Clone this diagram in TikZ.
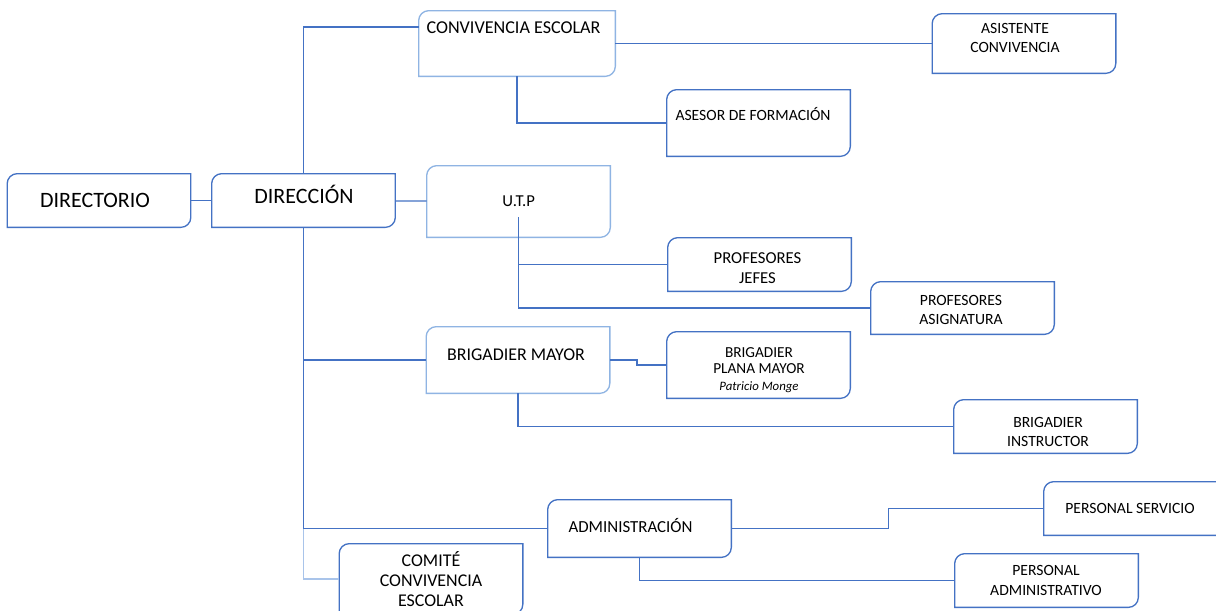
\documentclass[tikz,border=0pt]{standalone}
\usepackage{fontspec}
\setmainfont{Carlito}
\definecolor{azul}{HTML}{4472C4}
\definecolor{celeste}{HTML}{8FB4E3}
\definecolor{azulclaro}{HTML}{A9C4EA}
\begin{document}
\begin{tikzpicture}[x=0.02cm,y=-0.02cm]
        \tikzstyle{caja}=[inner sep=0pt,minimum width=3.66cm,minimum height=1.06cm]
        \tikzstyle{txt}=[inner sep=0pt,align=center,font=\fontsize{8.9}{11}\selectfont]
        \tikzstyle{linea}=[draw=azul,line width=0.75pt]

        \fill[white] (0,0) rectangle (1216,610);
        \useasboundingbox (0,0) rectangle (1216,610);

        % cajas
        \node (dirio)[caja] at (99,200.5) {};
        \node (direc)[caja] at (303.5,200.5) {};
        \node (conv)[caja,minimum width=3.92cm,minimum height=1.3cm] at (517,43.5) {};
        \node (asis)[caja,minimum height=1.18cm] at (1024,43.5) {};
        \node (asesor)[caja,minimum height=1.32cm] at (758.5,123) {};
        \node (utp)[caja,minimum height=1.42cm] at (518.5,201.5) {};
        \node (pjefes)[caja] at (759.5,264.5) {};
        \node (pasig)[caja,minimum height=1.04cm] at (962.5,308) {};
        \node (bmay)[caja,minimum height=1.32cm] at (518,360) {};
        \node (plana)[caja,minimum height=1.32cm] at (758.5,365) {};
        \node (instr)[caja] at (1045.5,426.5) {};
        \node (admin)[caja,minimum height=1.14cm] at (639.5,528.5) {};
        \node (pserv)[caja] at (1135.5,508.5) {};
        \node (padm)[caja] at (1046.5,580.5) {};
        \node (comite)[caja,minimum height=1.4cm] at (431,579) {};

        \foreach \n/\c in {dirio/azul,direc/azul,conv/celeste,asis/azul,asesor/azul,utp/celeste,pjefes/azul,pasig/azul,bmay/celeste,plana/azul,instr/azul,admin/azul,pserv/azul,padm/azul,comite/azul}
            \draw[\c,line width=0.75pt] (\n.south west) -- ([yshift=-0.2cm]\n.north west) arc[start angle=180,end angle=90,radius=0.2cm] -- (\n.north east) -- ([yshift=0.2cm]\n.south east) arc[start angle=0,end angle=-90,radius=0.2cm] -- cycle;

        % textos
        \node (dirio-t)[txt,anchor=base,font=\fontsize{12.5}{15}\selectfont] at (95,207.5) {DIRECTORIO};
        \node (direc-t)[txt,anchor=base,font=\fontsize{12.5}{15}\selectfont] at (304,203) {DIRECCIÓN};
        \node (conv-t)[txt,anchor=base,font=\fontsize{10.3}{12}\selectfont] at (513.5,33.5) {CONVIVENCIA ESCOLAR};
        \node (asis-t)[txt] at (1015,38) {ASISTENTE\\CONVIVENCIA};
        \node (asesor-t)[txt,anchor=base] at (753,120.5) {ASESOR DE FORMACIÓN};
        \node (utp-t)[txt,anchor=base,font=\fontsize{9.5}{11}\selectfont] at (518.7,206.5) {U.T.P};
        \node (pjefes-t)[txt,font=\fontsize{9.5}{11.3}\selectfont] at (757.5,268.5) {PROFESORES\\JEFES};
        \node (pasig-t)[txt] at (961,310) {PROFESORES\\ASIGNATURA};
        \node (bmay-t)[txt,anchor=base,font=\fontsize{10.2}{12}\selectfont] at (516,360.5) {BRIGADIER MAYOR};
        \node (plana-t)[txt,font=\fontsize{8.7}{9.4}\selectfont] at (759,370) {BRIGADIER\\PLANA MAYOR\\{\fontsize{7.3}{9}\selectfont\itshape Patricio Monge}};
        \node (instr-t)[txt] at (1048,432) {BRIGADIER\\INSTRUCTOR};
        \node (admin-t)[txt,anchor=base,font=\fontsize{9.6}{11}\selectfont] at (630.5,532.5) {ADMINISTRACIÓN};
        \node (pserv-t)[txt,anchor=base] at (1130,513) {PERSONAL SERVICIO};
        \node (padm-t)[txt] at (1046,580.5) {PERSONAL\\ADMINISTRATIVO};
        \node (comite-t)[txt,font=\fontsize{10.2}{11.6}\selectfont] at (431,579) {COMITÉ\\CONVIVENCIA\\ESCOLAR};

        % lineas
        \coordinate (utpbajo) at ([yshift=-0.31cm]utp.center);
        \draw[linea,draw=azulclaro] (direc.south) |- (comite.west);
        \draw[linea] (dirio) -- (direc);
        \draw[linea] (direc.north) |- ([yshift=0.33cm]conv.west);
        \draw[linea] (direc) -- (utp);
        \draw[linea] (direc.south) |- (bmay.west);
        \draw[linea] (direc.south) |- (admin.west);
        \draw[linea] (conv) -- (asis);
        \draw[linea] (conv.south) |- (asesor.west);
        \draw[linea] (utpbajo) |- (pjefes.west);
        \draw[linea] (utpbajo) |- (pasig.west);
        \draw[linea] (bmay.east) -- ++(27,0) |- (plana.west);
        \draw[linea] (bmay.south) |- (instr.west);
        \draw[linea] (admin.east) -- ++(157,0) |- (pserv.west);
        \draw[linea] (admin.south) |- (padm.west);
\end{tikzpicture}
\end{document}
